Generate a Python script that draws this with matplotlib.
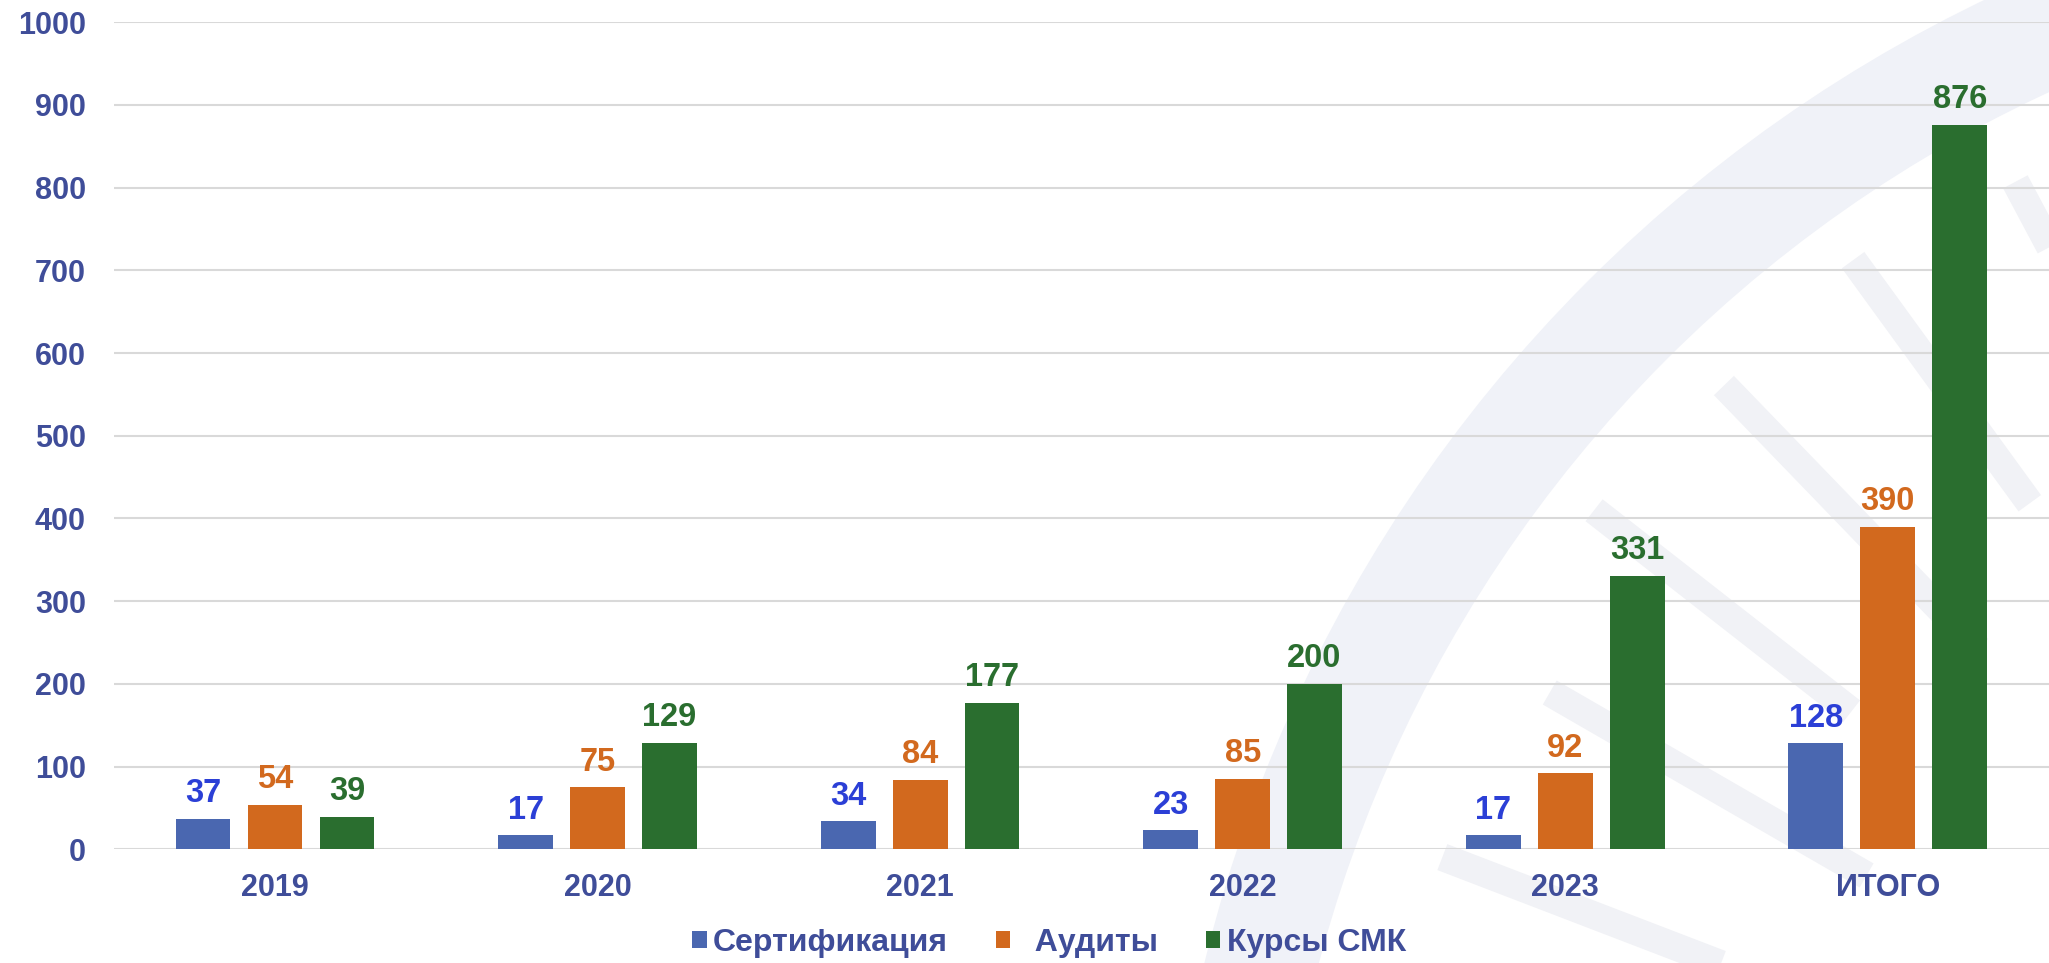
import numpy as np
import matplotlib
matplotlib.use("Agg")
import matplotlib.pyplot as plt
from matplotlib.patches import Rectangle, Wedge

categories = ["2019", "2020", "2021", "2022", "2023", "ИТОГО"]
series_names = ["Сертификация", "  Аудиты", "Курсы СМК"]
cert = [37, 17, 34, 23, 17, 128]
audits = [54, 75, 84, 85, 92, 390]
courses = [39, 129, 177, 200, 331, 876]
yticks = [0, 100, 200, 300, 400, 500, 600, 700, 800, 900, 1000]

bar_colors = ["#4A67B0", "#D2691E", "#2A6E2F"]
label_colors = ["#2B3FD6", "#D2691E", "#2A6E2F"]
tick_color = "#3F4D99"

plt.rcParams['font.family'] = ['Liberation Sans', 'DejaVu Sans']
plt.rcParams['font.weight'] = 'bold'

fig = plt.figure(figsize=(20.49, 9.63), dpi=100)

# faint decorative background (watermark)
bg = fig.add_axes([0, 0, 1, 1], zorder=0)
bg.set_xlim(0, 1568)
bg.set_ylim(737, 0)
bg.axis('off')
cx, cy = 2000, 1000
bg.add_patch(Wedge((cx, cy), 1110, 180, 270, width=85, facecolor="#F0F2F8", edgecolor='none'))
ray_specs = [(192, 640, 900), (201, 700, 960), (210, 660, 940), (218, 740, 990),
             (226, 700, 980), (234, 760, 990), (242, 720, 975), (250, 780, 990),
             (258, 740, 980)]
for ang, r0, r1 in ray_specs:
    a = np.deg2rad(ang)
    bg.plot([cx + r0 * np.cos(a), cx + r1 * np.cos(a)],
            [cy + r0 * np.sin(a), cy + r1 * np.sin(a)],
            color="#F1F2F6", lw=20, solid_capstyle='butt')

ax = fig.add_axes([0.0555, 0.118, 0.9445, 0.859], zorder=1)
ax.patch.set_alpha(0)

x = np.arange(len(categories))
pitch = 0.223
width = 0.17
data = [cert, audits, courses]
for i, (vals, name) in enumerate(zip(data, series_names)):
    pos = x + (i - 1) * pitch
    ax.bar(pos, vals, width=width, color=bar_colors[i], label=name, zorder=3)
    for p, v in zip(pos, vals):
        ax.annotate(str(v), (p, v), xytext=(0, 7), textcoords='offset points',
                    ha='center', va='bottom', fontsize=23.5, fontweight='bold',
                    color=label_colors[i], zorder=4)

ax.set_xlim(-0.5, len(categories) - 0.5)
ax.set_ylim(0, 1000)
ax.set_yticks(yticks)
ax.set_xticks(x)
ax.set_xticklabels(categories)
ax.yaxis.grid(True, color="#D9D9D9", lw=1.5, zorder=0)
ax.set_axisbelow(True)
for s in ax.spines.values():
    s.set_visible(False)
ax.tick_params(axis='y', length=0, pad=20, labelsize=22, labelcolor=tick_color)
ax.tick_params(axis='x', length=0, pad=17, labelsize=22, labelcolor=tick_color)
for lab in ax.get_xticklabels() + ax.get_yticklabels():
    lab.set_fontweight('bold')

handles = [Rectangle((0, 0), 1, 1, facecolor=c, edgecolor='none') for c in bar_colors]
leg = fig.legend(handles, series_names, loc='center', bbox_to_anchor=(0.512, 0.021),
                 ncol=3, frameon=False, handlelength=0.45, handleheight=0.45,
                 handletextpad=0.2, columnspacing=1.5,
                 prop={'weight': 'bold', 'size': 23})
for t in leg.get_texts():
    t.set_color(tick_color)

fig.savefig("out.png", dpi=100)
